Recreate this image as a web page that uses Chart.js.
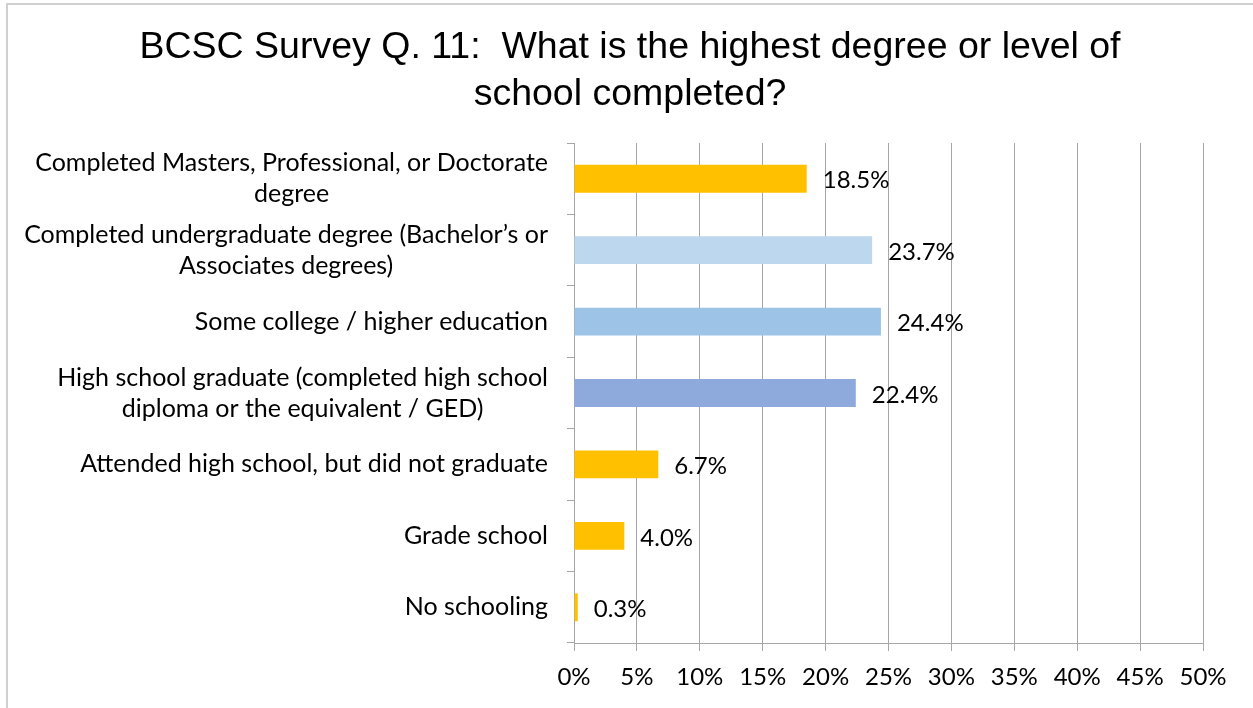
<!DOCTYPE html>
<html>
<head>
<meta charset="utf-8">
<script src="https://cdn.jsdelivr.net/npm/chart.js@4"></script>
<style>
  html, body { margin: 0; padding: 0; background: #fff; }
  #wrap { position: relative; width: 1253px; height: 708px; }
</style>
</head>
<body>
<div id="wrap"><canvas id="chart" width="1253" height="708"></canvas></div>
<script>
// Survey answers, top to bottom
const categories = [
  ['Completed Masters, Professional, or Doctorate', 'degree'],
  ['Completed undergraduate degree (Bachelor\u2019s or', 'Associates degrees)'],
  ['Some college / higher education'],
  ['High school graduate (completed high school', 'diploma or the equivalent / GED)'],
  ['Attended high school, but did not graduate'],
  ['Grade school'],
  ['No schooling']
];
const shares = [18.5, 23.7, 24.4, 22.4, 6.7, 4.0, 0.3];
const barColors = ['#FFC000', '#BDD7EE', '#9DC3E6', '#8EA9DB', '#FFC000', '#FFC000', '#FFC000'];
const titleLines = ['BCSC Survey Q. 11:  What is the highest degree or level of', 'school completed?'];
const xTicks = [0, 5, 10, 15, 20, 25, 30, 35, 40, 45, 50];

const LABEL_FONT = 'Lato, "Open Sans", sans-serif';
const LABEL_SIZE = 24;
const CATEGORY_SIZE = 25;
const GRID = '#A6A6A6';

// white page with the light frame around the chart
const framePlugin = {
  id: 'frame',
  beforeDraw(chart) {
    const c = chart.ctx;
    c.save();
    c.fillStyle = '#fff';
    c.fillRect(0, 0, chart.width, chart.height);
    c.strokeStyle = '#D0D0D0';
    c.lineWidth = 2;
    c.strokeRect(7, 4, chart.width + 20, chart.height + 20);
    c.restore();
  }
};

// category names: right-aligned block, centred lines
const categoryLabels = {
  id: 'categoryLabels',
  afterDraw(chart) {
    const c = chart.ctx;
    const y = chart.scales.y;
    const right = y.right - 26;
    const lineH = 31;
    c.save();
    c.font = CATEGORY_SIZE + 'px ' + LABEL_FONT;
    c.fillStyle = '#000';
    c.textAlign = 'center';
    c.textBaseline = 'middle';
    categories.forEach((lines, i) => {
      const cy = y.getPixelForValue(i);
      const w = Math.max(...lines.map(l => c.measureText(l).width));
      const cx = right - w / 2;
      const top = cy - (lines.length - 1) * lineH / 2;
      lines.forEach((l, k) => c.fillText(l, cx, top + k * lineH));
    });
    c.restore();
  }
};

// value labels to the right of each bar
const valueLabels = {
  id: 'valueLabels',
  afterDatasetsDraw(chart) {
    const c = chart.ctx;
    const meta = chart.getDatasetMeta(0);
    c.save();
    c.font = LABEL_SIZE + 'px ' + LABEL_FONT;
    c.fillStyle = '#000';
    c.textAlign = 'left';
    c.textBaseline = 'middle';
    meta.data.forEach((bar, i) => {
      c.fillText(shares[i].toFixed(1) + '%', bar.x + 16, bar.y + 2);
    });
    c.restore();
  }
};

new Chart(document.getElementById('chart'), {
  type: 'bar',
  data: {
    labels: categories.map(l => l.join(' ')),
    datasets: [{
      data: shares,
      backgroundColor: barColors,
      borderWidth: 0,
      categoryPercentage: 1,
      barPercentage: 0.39
    }]
  },
  options: {
    indexAxis: 'y',
    responsive: false,
    animation: false,
    layout: { padding: { left: 57, right: 50, top: 0, bottom: 0 } },
    plugins: {
      legend: { display: false },
      tooltip: { enabled: false },
      title: {
        display: true,
        text: titleLines,
        color: '#000',
        font: { family: '"Liberation Sans", Arial, sans-serif', size: 37.5, weight: 'normal', lineHeight: 1.26 },
        padding: { top: 24, bottom: 24.5 }
      }
    },
    scales: {
      x: {
        min: 0,
        max: 50,
        afterBuildTicks(scale) { scale.ticks = xTicks.map(v => ({ value: v })); },
        afterFit(scale) { scale.height = 65; },
        border: { color: GRID, width: 1 },
        grid: { color: GRID, lineWidth: 1, tickLength: 8, drawTicks: true },
        ticks: {
          color: '#000',
          font: { family: LABEL_FONT, size: LABEL_SIZE },
          padding: 12,
          callback: v => v + '%'
        }
      },
      y: {
        afterFit(scale) { scale.width = 517; },
        border: { color: GRID, width: 1 },
        grid: { drawOnChartArea: false, drawTicks: true, tickLength: 7, offset: true, color: GRID },
        ticks: { display: false }
      }
    }
  },
  plugins: [framePlugin, categoryLabels, valueLabels]
});
</script>
</body>
</html>
